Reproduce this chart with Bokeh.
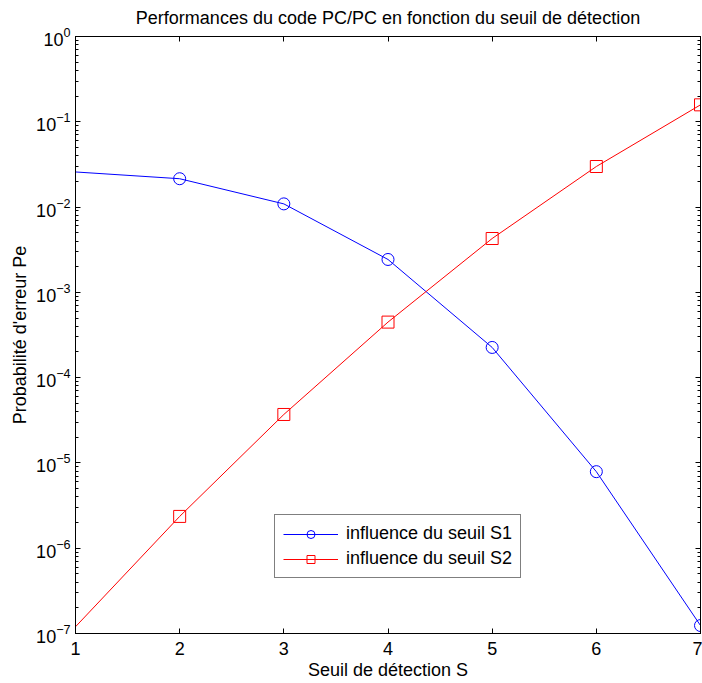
from bokeh.plotting import figure
from bokeh.models import (LogAxis, LinearAxis, FixedTicker, LogTicker, CustomJSTickFormatter,
                          Range1d, Legend)
from bokeh.embed import file_html
from bokeh.resources import INLINE

# ---- data ----
seuil = [1, 2, 3, 4, 5, 6, 7]
pe_s1 = [0.0258, 0.0215, 0.0109, 0.00243, 2.26e-4, 7.9e-6, 1.24e-7]
pe_s2 = [1.2e-7, 2.36e-6, 3.7e-5, 4.48e-4, 4.28e-3, 0.0299, 0.158]
marker_start = 1  # markers shown from the 2nd point on
x_ticks = [1, 2, 3, 4, 5, 6, 7]

title_txt = "Performances du code PC/PC en fonction du seuil de détection"
xlabel = "Seuil de détection S"
ylabel = "Probabilité d'erreur Pe"
label_s1 = "influence du seuil S1"
label_s2 = "influence du seuil S2"

FONT = "Liberation Sans"
FS = "18px"

p = figure(width=702, height=683, y_axis_type="log",
           x_range=Range1d(1, 7), y_range=Range1d(1e-7, 1),
           output_backend="svg", toolbar_location=None,
           min_border_left=75, min_border_top=36, min_border_right=2, min_border_bottom=50)

p.title.text = title_txt
p.title.align = "center"
p.title.vertical_align = "top"
p.title.text_font = FONT
p.title.text_font_size = FS
p.title.text_font_style = "normal"
p.title.text_color = "black"
p.title.offset = 0
p.title.standoff = 14

p.xgrid.visible = False
p.ygrid.visible = False
p.outline_line_color = "black"
p.outline_line_width = 1
p.background_fill_color = "white"
p.border_fill_color = "white"

def style_axis(ax):
    ax.axis_line_color = "black"
    ax.major_tick_line_color = "black"
    ax.minor_tick_line_color = "black"
    ax.major_tick_in = 5
    ax.major_tick_out = 0
    ax.minor_tick_in = 3
    ax.minor_tick_out = 0
    ax.major_label_text_font = FONT
    ax.major_label_text_font_size = FS
    ax.major_label_text_color = "black"
    ax.axis_label_text_font = FONT
    ax.axis_label_text_font_size = FS
    ax.axis_label_text_font_style = "normal"
    ax.axis_label_text_color = "black"

xax = p.xaxis[0]
xax.ticker = FixedTicker(ticks=x_ticks)
xax.axis_label = xlabel
xax.major_label_standoff = 8
xax.axis_label_standoff = 2
style_axis(xax)

yax = p.yaxis[0]
yax.ticker = LogTicker(num_minor_ticks=10)
yax.axis_label = ylabel
yax.major_label_standoff = 5
yax.axis_label_standoff = 3
style_axis(yax)

blank = CustomJSTickFormatter(code="return ''")
top = LinearAxis(ticker=FixedTicker(ticks=x_ticks), formatter=blank, major_label_standoff=0)
style_axis(top)
top.major_label_text_font_size = "1px"
p.add_layout(top, "above")

right = LogAxis(ticker=LogTicker(num_minor_ticks=10), formatter=blank, major_label_standoff=0)
style_axis(right)
right.major_label_text_font_size = "1px"
p.add_layout(right, "right")

l1 = p.line(seuil, pe_s1, line_color="#0000ff", line_width=1)
m1 = p.scatter(seuil[marker_start:], pe_s1[marker_start:], marker="circle", size=12,
               fill_color=None, line_color="#0000ff", line_width=1)
l2 = p.line(seuil, pe_s2, line_color="#ff0000", line_width=1)
m2 = p.scatter(seuil[marker_start:], pe_s2[marker_start:], marker="square", size=12,
               fill_color=None, line_color="#ff0000", line_width=1)

legend = Legend(items=[(label_s1, [l1, m1]), (label_s2, [l2, m2])],
                location=(199, 55))
legend.border_line_color = "black"
legend.border_line_width = 1
legend.label_text_font = FONT
legend.label_text_font_size = FS
legend.label_text_color = "black"
legend.glyph_width = 55
legend.glyph_height = 20
legend.label_standoff = 8
legend.padding = 8
legend.spacing = 4
legend.margin = 0
legend.background_fill_alpha = 1
p.add_layout(legend)

open("out.html", "w").write(file_html(p, INLINE))
